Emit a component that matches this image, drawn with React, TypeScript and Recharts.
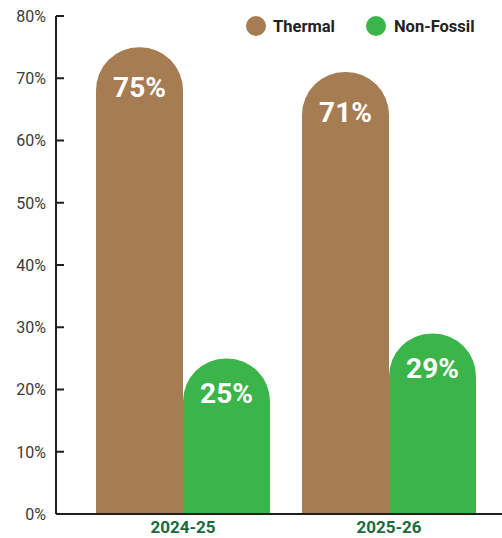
import React from 'react';
import { BarChart, Bar, XAxis, YAxis, Legend, LabelList } from 'recharts';

const YEARS = ['2024-25', '2025-26'];
const THERMAL = [75, 71];
const NON_FOSSIL = [25, 29];
const Y_TICKS = [0, 10, 20, 30, 40, 50, 60, 70, 80];

const COLORS = {
    thermal: '#a67c52',
    nonFossil: '#3bb54a',
    axis: '#1f1f1f',
    yearText: '#1b6a3b',
};

const FONT = 'Roboto, "Noto Sans", sans-serif';

const data = YEARS.map((year, i) => ({
    year,
    thermal: THERMAL[i],
    nonFossil: NON_FOSSIL[i],
}));

const YTick = (props: any) => {
    const { x, y, payload } = props;
    return (
        <g>
            <line x1={x} x2={x + 8} y1={y} y2={y} stroke={COLORS.axis} strokeWidth={2} />
            <text x={x - 10} y={y} dy="0.36em" textAnchor="end" fontSize={16} fill="#3a3a3a" fontFamily={FONT}>
                {payload.value}%
            </text>
        </g>
    );
};

const LegendContent = () => (
    <div style={{ display: 'flex', alignItems: 'center', fontFamily: FONT, fontWeight: 700, fontSize: 16.5, color: '#222' }}>
        <span style={{ width: 20, height: 20, borderRadius: 10, background: COLORS.thermal, display: 'inline-block' }} />
        <span style={{ marginLeft: 7 }}>Thermal</span>
        <span style={{ width: 20, height: 20, borderRadius: 10, background: COLORS.nonFossil, display: 'inline-block', marginLeft: 31 }} />
        <span style={{ marginLeft: 8 }}>Non-Fossil</span>
    </div>
);

export default function App() {
    return (
        <div>
            <style>{'body{margin:0}'}</style>
            <BarChart
                width={502}
                height={538}
                data={data}
                margin={{ top: 16, right: 0, bottom: 0, left: 0 }}
                barGap={0}
                barSize={87}
            >
                <XAxis
                    dataKey="year"
                    height={24}
                    padding={{ left: 24, right: 10 }}
                    axisLine={{ stroke: COLORS.axis, strokeWidth: 2 }}
                    tickLine={false}
                    tickSize={0}
                    tickMargin={7}
                    tick={{ fill: COLORS.yearText, fontSize: 17, fontWeight: 700, fontFamily: FONT }}
                />
                <YAxis
                    width={56}
                    domain={[0, 80]}
                    ticks={Y_TICKS}
                    interval={0}
                    axisLine={{ stroke: COLORS.axis, strokeWidth: 2 }}
                    tickLine={false}
                    tickSize={0}
                    tickMargin={0}
                    tick={<YTick />}
                />
                <Legend
                    layout="vertical"
                    verticalAlign="middle"
                    align="center"
                    content={<LegendContent />}
                    wrapperStyle={{ top: 16, left: 246, width: 'auto', height: 'auto' }}
                />
                <Bar dataKey="thermal" name="Thermal" fill={COLORS.thermal} radius={[43, 43, 0, 0]} isAnimationActive={false}>
                    <LabelList
                        dataKey="thermal"
                        position="insideTop"
                        offset={30}
                        formatter={(v: any) => `${v}%`}
                        fill="#fff"
                        fontSize={28}
                        fontWeight={700}
                        fontFamily={FONT}
                    />
                </Bar>
                <Bar dataKey="nonFossil" name="Non-Fossil" fill={COLORS.nonFossil} radius={[43, 43, 0, 0]} isAnimationActive={false}>
                    <LabelList
                        dataKey="nonFossil"
                        position="insideTop"
                        offset={25}
                        formatter={(v: any) => `${v}%`}
                        fill="#fff"
                        fontSize={28}
                        fontWeight={700}
                        fontFamily={FONT}
                    />
                </Bar>
            </BarChart>
        </div>
    );
}
